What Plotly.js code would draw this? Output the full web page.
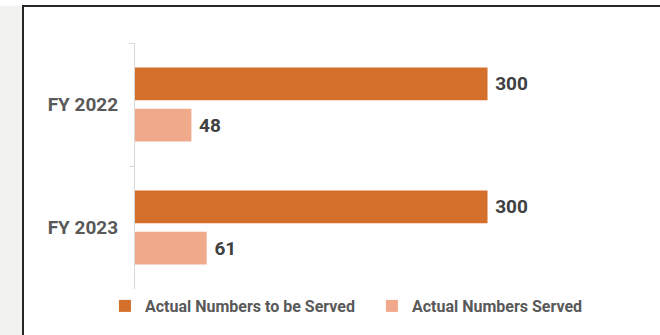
<!DOCTYPE html>
<html>
<head>
<meta charset="utf-8">
<script src="https://cdn.plot.ly/plotly-3.0.1.min.js"></script>
<style>
  html, body { margin: 0; padding: 0; background: #ffffff; width: 660px; height: 335px; overflow: hidden; }
  #strip { position: absolute; left: 0; top: 6px; width: 22px; height: 329px; background: #f2f2f0; }
  #bleft { position: absolute; left: 22px; top: 5px; width: 2px; height: 330px; background: #262626; }
  #btop { position: absolute; left: 22px; top: 5px; width: 638px; height: 2px; background: #262626; }
  #chart { position: absolute; left: 0; top: 0; width: 660px; height: 335px; }
</style>
</head>
<body>
<div id="strip"></div>
<div id="bleft"></div>
<div id="btop"></div>
<div id="chart"></div>
<script>
const categories = ["FY 2022", "FY 2023"];
const seriesNames = ["Actual Numbers to be Served", "Actual Numbers Served"];
const toBeServed = [300, 300];
const served = [48, 61];

const colors = ["#D4702B", "#F1A98C"];
const NBSP = "\u00a0";

function barTrace(name, values, color) {
  return {
    type: "bar",
    orientation: "h",
    name: name,
    y: categories,
    x: values,
    marker: { color: color, line: { width: 0 } },
    text: values.map(v => NBSP + v),
    textposition: "outside",
    constraintext: "none",
    cliponaxis: false,
    textfont: { family: "Roboto, Arial, sans-serif", size: 19, weight: "bold", color: "#404040" },
    hoverinfo: "skip"
  };
}

const data = [
  barTrace(seriesNames[0], toBeServed, colors[0]),
  barTrace(seriesNames[1], served, colors[1])
];

const layout = {
  width: 660,
  height: 335,
  margin: { l: 135, r: 55, t: 43, b: 46, autoexpand: false },
  paper_bgcolor: "rgba(0,0,0,0)",
  plot_bgcolor: "rgba(0,0,0,0)",
  barmode: "group",
  bargap: 0.33,
  bargroupgap: 0.21,
  showlegend: true,
  legend: {
    orientation: "h",
    x: -0.064,
    xanchor: "left",
    y: 0,
    yanchor: "top",
    entrywidth: 222,
    entrywidthmode: "pixels",
    font: { family: "Roboto, Arial, sans-serif", size: 16, weight: "bold", color: "#595959" },
    bgcolor: "rgba(0,0,0,0)"
  },
  xaxis: {
    range: [0, 400],
    showgrid: false,
    zeroline: false,
    showline: false,
    showticklabels: false,
    ticks: ""
  },
  yaxis: {
    type: "category",
    autorange: "reversed",
    showgrid: false,
    zeroline: false,
    showline: true,
    linecolor: "#d9d9d9",
    linewidth: 1,
    ticks: "outside",
    tickson: "boundaries",
    ticklen: 5,
    tickcolor: "#d9d9d9",
    tickfont: { family: "Roboto, Arial, sans-serif", size: 19, weight: "bold", color: "#595959" },
    ticklabelstandoff: 12
  },
  font: { family: "Roboto, Arial, sans-serif" }
};

Plotly.newPlot("chart", data, layout, { staticPlot: true, displayModeBar: false });
</script>
</body>
</html>
